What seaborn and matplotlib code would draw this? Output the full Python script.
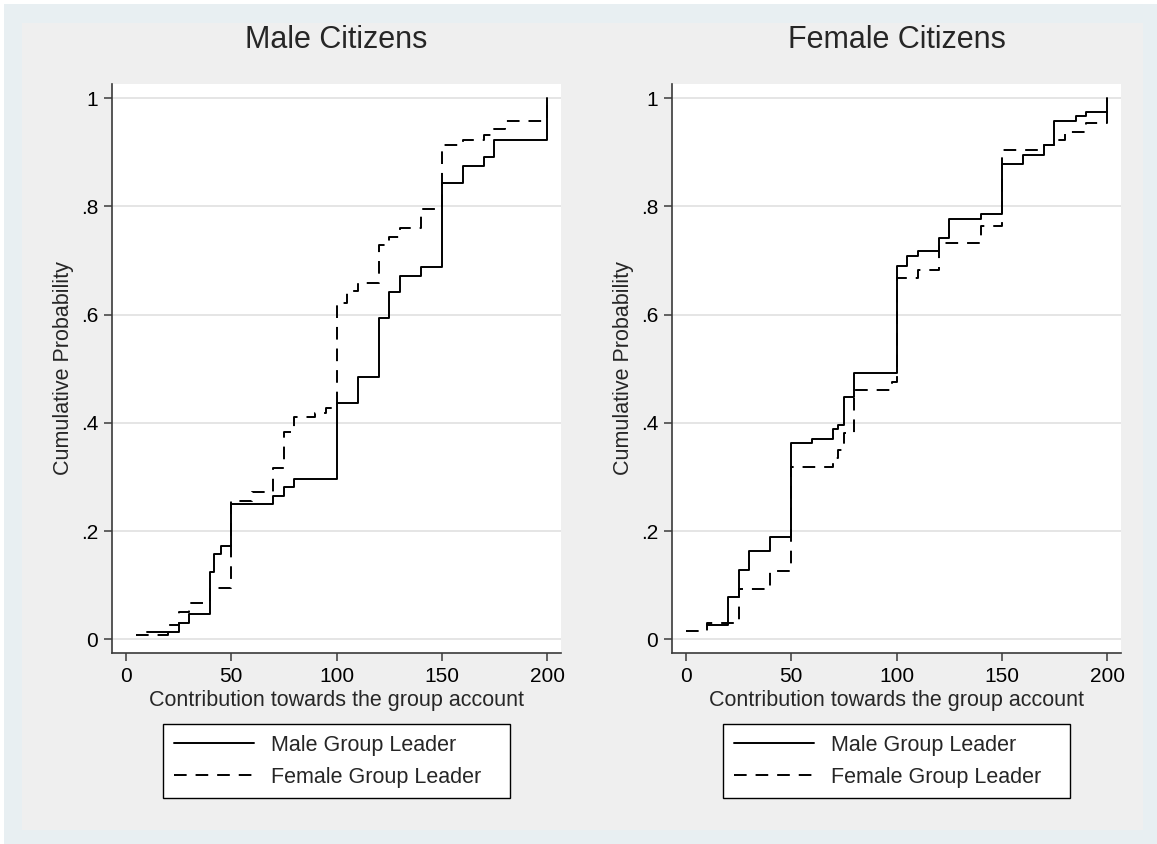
import matplotlib.pyplot as plt
from matplotlib.patches import Rectangle
import seaborn as sns
import pandas as pd

# Male citizens panel (x = contribution, y = cumulative probability)
male_cit_ml_x = [10, 25, 30, 40, 42, 45, 50, 70, 75, 80, 100, 110, 120, 125, 130, 140, 150, 160, 170, 175, 200]
male_cit_ml_y = [0.014, 0.030, 0.047, 0.125, 0.157, 0.172, 0.250, 0.265, 0.281, 0.297, 0.437, 0.484, 0.594,
                 0.641, 0.672, 0.688, 0.844, 0.875, 0.891, 0.923, 1.0]
male_cit_fl_x = [5, 20, 25, 30, 40, 50, 60, 70, 75, 80, 90, 95, 100, 105, 110, 120, 125, 130, 140, 150, 160,
                 170, 175, 180, 200]
male_cit_fl_y = [0.008, 0.026, 0.051, 0.067, 0.095, 0.256, 0.273, 0.316, 0.384, 0.410, 0.418, 0.427, 0.621,
                 0.643, 0.659, 0.729, 0.744, 0.760, 0.795, 0.914, 0.923, 0.932, 0.942, 0.957, 1.0]

# Female citizens panel
fem_cit_ml_x = [10, 20, 25, 30, 40, 50, 60, 70, 72, 75, 80, 100, 105, 110, 120, 125, 140, 150, 160, 170, 175,
                185, 190, 200]
fem_cit_ml_y = [0.026, 0.078, 0.128, 0.163, 0.190, 0.362, 0.370, 0.388, 0.396, 0.447, 0.492, 0.689, 0.708,
                0.717, 0.742, 0.777, 0.785, 0.879, 0.895, 0.914, 0.957, 0.966, 0.975, 1.0]
fem_cit_fl_x = [0, 10, 25, 40, 50, 70, 72, 75, 80, 98, 100, 110, 120, 140, 150, 170, 175, 180, 190, 200]
fem_cit_fl_y = [0.016, 0.031, 0.094, 0.127, 0.318, 0.335, 0.350, 0.381, 0.461, 0.476, 0.667, 0.683, 0.732,
                0.763, 0.904, 0.914, 0.923, 0.938, 0.954, 1.0]

panel_titles = ["Male Citizens", "Female Citizens"]
leader_labels = ["Male Group Leader", "Female Group Leader"]
y_ticks = [0, 0.2, 0.4, 0.6, 0.8, 1]
y_ticklabels = ["0", ".2", ".4", ".6", ".8", "1"]
x_ticks = [0, 50, 100, 150, 200]


def make_df(ml_x, ml_y, fl_x, fl_y):
    d1 = pd.DataFrame({"x": ml_x, "y": ml_y, "leader": leader_labels[0]})
    d2 = pd.DataFrame({"x": fl_x, "y": fl_y, "leader": leader_labels[1]})
    return pd.concat([d1, d2], ignore_index=True)


panels = [make_df(male_cit_ml_x, male_cit_ml_y, male_cit_fl_x, male_cit_fl_y),
          make_df(fem_cit_ml_x, fem_cit_ml_y, fem_cit_fl_x, fem_cit_fl_y)]

sns.set_style("white")
plt.rcParams["font.family"] = ["Liberation Sans", "DejaVu Sans"]

W, H = 1157, 844
fig = plt.figure(figsize=(W / 100, H / 100), dpi=100)
fig.patch.set_facecolor("white")
fig.patches.append(Rectangle((4 / W, 0), 1 - 4 / W, 1 - 4 / H, transform=fig.transFigure,
                             facecolor="#e8eff2", edgecolor="none", zorder=-3))
fig.patches.append(Rectangle((22 / W, 14 / H), 1121 / W, 807 / H, transform=fig.transFigure,
                             facecolor="#efefef", edgecolor="none", zorder=-2))

axes_left = [112, 672]
spine_col = "#3a3a3a"

for i, df in enumerate(panels):
    ax = fig.add_axes([axes_left[i] / W, 191 / H, 449 / W, 569 / H])
    ax.set_facecolor("white")
    sns.lineplot(data=df, x="x", y="y", hue="leader", style="leader", ax=ax,
                 palette={leader_labels[0]: "black", leader_labels[1]: "black"},
                 dashes={leader_labels[0]: "", leader_labels[1]: (6.5, 4.6)},
                 drawstyle="steps-post", linewidth=1.4, estimator=None, sort=False)
    ax.set_xlim(-6.6, 206.6)
    ax.set_ylim(-0.025, 1.026)
    ax.set_xticks(x_ticks)
    ax.set_xticklabels([str(t) for t in x_ticks])
    ax.set_yticks(y_ticks)
    ax.set_yticklabels(y_ticklabels)
    ax.yaxis.grid(True, color="#e3e3e3", linewidth=1.3)
    ax.xaxis.grid(False)
    ax.set_axisbelow(True)
    for s in ["top", "right"]:
        ax.spines[s].set_visible(False)
    for s in ["left", "bottom"]:
        ax.spines[s].set_color(spine_col)
        ax.spines[s].set_linewidth(1.2)
    ax.tick_params(bottom=True, left=True, direction="out", length=6, width=1.1,
                   color=spine_col, labelsize=15, pad=4, labelcolor="black")
    ax.set_title(panel_titles[i], fontsize=22, pad=26)
    ax.set_xlabel("Contribution towards the group account", fontsize=15.5, labelpad=3)
    ax.set_ylabel("Cumulative Probability", fontsize=15.5, labelpad=5)

    handles, labels = ax.get_legend_handles_labels()
    labels = [lab + "   " for lab in labels]
    ax.legend(handles, labels, loc="upper center", bbox_to_anchor=(0.5, -0.125), borderaxespad=0,
              frameon=True, fancybox=False, edgecolor="black", facecolor="white", framealpha=1,
              fontsize=15.5, handlelength=3.7, handletextpad=0.8, borderpad=0.5, labelspacing=0.5)
    ax.get_legend().get_frame().set_linewidth(1.0)

fig.savefig("out.png", dpi=100)
